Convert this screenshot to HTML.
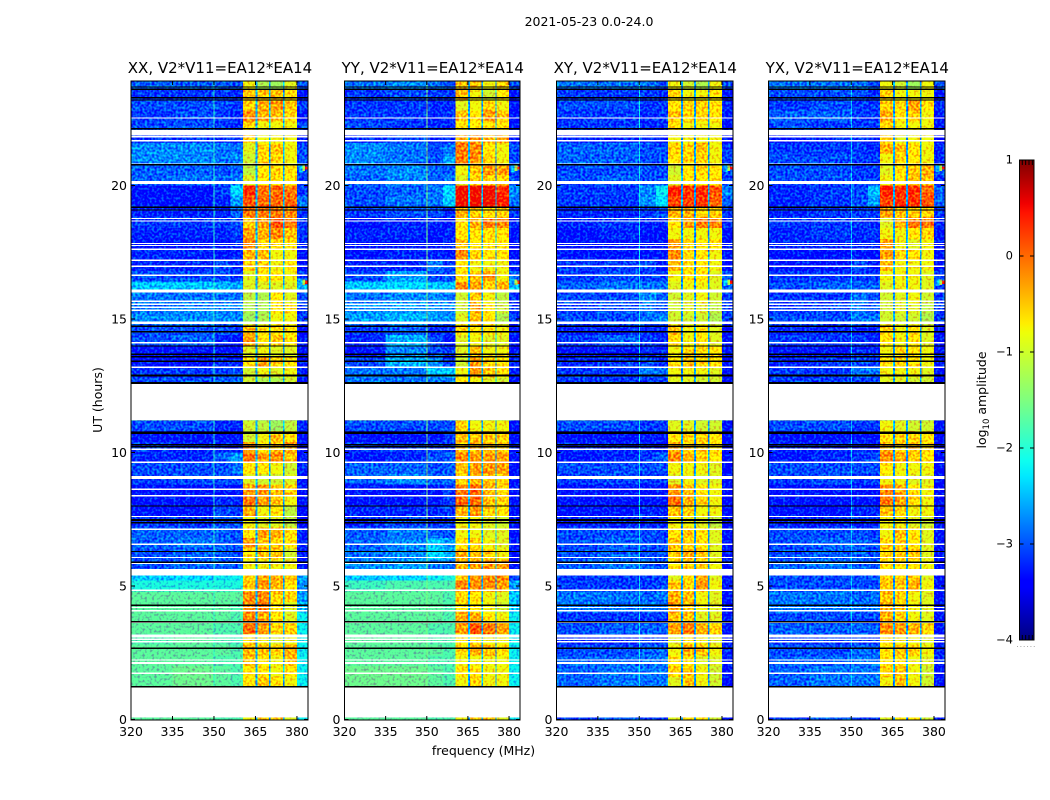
<!DOCTYPE html>
<html>
<head>
<meta charset="utf-8">
<title>2021-05-23 dynamic spectra</title>
<style>
html,body{margin:0;padding:0;background:#fff}
svg{display:block}
text{font-family:"DejaVu Sans","Liberation Sans",sans-serif;fill:#000}
</style>
</head>
<body>
<svg id="chart" xmlns="http://www.w3.org/2000/svg" width="1050" height="800" viewBox="0 0 1050 800">
<defs>
<filter id="speckle" x="0" y="0" width="1" height="1" color-interpolation-filters="sRGB">
<feTurbulence type="fractalNoise" baseFrequency="0.42" numOctaves="1" seed="7" result="n"/>
<feColorMatrix in="n" type="matrix" values="0 0 0 0 0  0 2.2 0 0 -0.6  0 0 0 0 0  0 0 0 0 1" result="g"/>
<feComponentTransfer in="SourceGraphic" result="half"><feFuncG type="linear" slope="0.5" intercept="0"/></feComponentTransfer>
<feComposite in="half" in2="g" operator="arithmetic" k1="0" k2="1" k3="0.35" k4="0" result="sum"/>
<feComponentTransfer in="sum"><feFuncG type="linear" slope="2" intercept="-0.35"/></feComponentTransfer>
</filter>
<linearGradient id="jet-gradient" x1="0" y1="1" x2="0" y2="0">
<stop offset="0" stop-color="#00007f"/><stop offset="0.11" stop-color="#0000ff"/>
<stop offset="0.125" stop-color="#0000ff"/><stop offset="0.34" stop-color="#00e8ff"/>
<stop offset="0.375" stop-color="#0fffee"/><stop offset="0.5" stop-color="#7fff7f"/>
<stop offset="0.64" stop-color="#eeff08"/><stop offset="0.66" stop-color="#ffee00"/>
<stop offset="0.89" stop-color="#ff1300"/><stop offset="0.91" stop-color="#f00000"/>
<stop offset="1" stop-color="#7f0000"/>
</linearGradient>
</defs>
<text x="589" y="26" text-anchor="middle" font-size="12.5">2021-05-23 0.0-24.0</text>
<text x="483.5" y="755" text-anchor="middle" font-size="12.5">frequency (MHz)</text>
<text transform="translate(102,400) rotate(-90)" text-anchor="middle" font-size="12.5">UT (hours)</text>
<text transform="translate(986,400) rotate(-90)" text-anchor="middle" font-size="12.5">log<tspan font-size="8.5" dy="3">10</tspan><tspan dy="-3"> amplitude</tspan></text>
<g id="panels"></g>
<g id="colorbar"></g>
</svg>
<script>
// Data: start hour of each time row (each 0.4 h long), top to bottom
const rowStarts = [23.6,23.2,22.8,22.4,22,21.6,21.2,20.8,20.4,20,19.6,19.2,18.8,18.4,18,17.6,17.2,16.8,16.4,16,15.6,15.2,14.8,14.4,14,13.6,13.2,12.8,12.4,
10.8,10.4,10,9.6,9.2,8.8,8.4,8,7.6,7.2,6.8,6.4,6,5.6,5.2,4.8,4.4,4,3.6,3.2,2.8,2.4,2,1.6,1.2,0];
// Frequency band edges in MHz
const freqEdges = [320,335,350,356,360.5,365.4,370.2,375.2,380,384];
// log10 amplitude x 10, per row, per frequency band
const xxValues = [
[-29,-29,-29,-30,-8,-12,-13,-9,-30],[-31,-31,-31,-32,-5,-5,-5,-6,-33],[-30,-30,-30,-31,-6,-4,-3,-5,-31],[-31,-30,-31,-32,-2,-4,-5,-6,-33],[-30,-30,-31,-32,-6,-8,-8,-8,-30],[-31,-31,-32,-32,-5,-8,-8,-8,-33],[-27,-27,-28,-28,-9,-6,-5,-8,-30],[-27,-27,-28,-27,-10,-6,-6,-8,-30],[-29,-29,-30,-29,-11,-7,-6,-7,-30],[-29,-28,-29,-28,-9,-7,-7,-7,-31],
[-33,-33,-31,-23,3,-1,0,-1,-31],[-33,-33,-32,-26,1,0,0,0,-28],[-32,-32,-32,-29,-1,-1,-1,-2,-31],[-31,-31,-31,-30,-6,-3,1,-1,-31],[-32,-32,-32,-31,-3,-4,-2,-5,-31],[-33,-33,-33,-32,-2,-6,-6,-7,-32],[-32,-32,-33,-32,-4,-5,-8,-8,-33],[-32,-32,-30,-32,-6,-6,-8,-7,-33],[-30,-30,-30,-31,-9,-7,-7,-8,-31],[-24,-24,-25,-26,-9,-9,-9,-9,-25],
[-28,-28,-28,-28,-11,-12,-7,-9,-30],[-28,-27,-27,-27,-12,-12,-7,-7,-31],[-27,-27,-27,-27,-13,-12,-8,-8,-31],[-30,-30,-30,-31,-5,-7,-7,-7,-33],[-30,-29,-32,-33,-3,-7,-5,-7,-33],[-33,-33,-33,-33,-9,-8,-9,-9,-33],[-33,-33,-32,-32,-7,-3,-6,-7,-33],[-31,-31,-30,-30,-10,-8,-9,-8,-32],[-30,-30,-29,-29,-10,-12,-12,-10,-33],
[-30,-30,-32,-32,-10,-11,-13,-11,-32],[-33,-33,-33,-33,-10,-8,-5,-7,-34],[-31,-32,-32,-33,-3,-7,-5,-3,-33],[-32,-32,-29,-26,-1,-3,-2,-5,-33],[-30,-30,-30,-28,-7,-7,-8,-10,-32],[-31,-30,-30,-30,-9,-10,-10,-9,-33],[-33,-33,-33,-33,-3,-3,-5,-6,-33],[-33,-33,-32,-32,-1,-3,-5,-8,-33],[-33,-33,-30,-31,-4,-8,-7,-11,-34],[-31,-31,-30,-30,-8,-9,-9,-11,-34],
[-29,-29,-29,-30,-7,-3,-4,-7,-32],[-29,-28,-29,-30,-3,-5,-6,-7,-32],[-30,-29,-29,-30,-7,-5,-5,-10,-33],[-30,-29,-29,-29,-8,-8,-8,-8,-33],[-24,-23,-22,-22,-6,-3,-4,-5,-26],[-21,-21,-21,-21,-5,-3,-4,-7,-27],[-17,-17,-17,-17,-2,-2,-6,-6,-26],[-17,-17,-17,-18,-2,-1,-7,-9,-25],[-17,-17,-17,-18,-2,-4,-7,-9,-22],[-17,-17,-18,-18,0,-3,-6,-6,-22],
[-18,-17,-18,-19,-6,-8,-9,-8,-22],[-17,-17,-17,-18,-4,-5,-6,-4,-22],[-17,-17,-18,-18,-5,-7,-8,-5,-22],[-17,-16,-17,-18,-7,-7,-8,-7,-22],[-17,-16,-17,-18,-7,-5,-7,-8,-22],[-17,-17,-18,-18,-8,-5,-5,-9,-22]];
const yyValues = [
[-28,-27,-28,-30,-5,-5,-8,-6,-30],[-31,-30,-31,-31,-4,-8,-10,-7,-33],[-31,-31,-32,-32,-9,-8,-6,-8,-33],[-31,-31,-32,-31,-5,-7,-3,-5,-33],[-30,-31,-32,-32,-7,-7,-7,-7,-33],[-32,-30,-32,-32,-3,-3,-4,-4,-33],[-27,-28,-30,-28,-1,-2,-7,-8,-30],[-27,-28,-30,-26,-1,-2,-6,-8,-30],[-28,-27,-29,-29,-8,-5,-3,-3,-31],[-29,-27,-29,-28,-9,-6,-6,-6,-30],
[-30,-29,-28,-23,5,5,5,3,-27],[-30,-28,-28,-24,5,5,5,4,-28],[-31,-30,-30,-32,-4,-6,-7,-6,-31],[-33,-32,-32,-33,-7,-4,-1,-2,-32],[-32,-32,-33,-32,-7,-7,-7,-7,-33],[-33,-33,-33,-32,-5,-7,-7,-7,-33],[-33,-32,-32,-33,-2,-6,-7,-7,-33],[-32,-32,-28,-31,-7,-8,-8,-8,-33],[-30,-26,-30,-30,-7,-5,-3,-8,-29],[-24,-23,-24,-24,-2,-3,-6,-4,-24],
[-28,-27,-27,-28,-10,-5,-8,-11,-31],[-27,-26,-27,-27,-10,-4,-7,-10,-31],[-26,-25,-26,-27,-9,-5,-7,-12,-31],[-31,-29,-32,-32,-6,-7,-7,-8,-33],[-32,-25,-30,-33,-9,-8,-9,-9,-33],[-33,-27,-30,-31,-9,-5,-8,-8,-33],[-30,-25,-27,-31,-10,-3,-6,-7,-32],[-28,-28,-24,-24,-8,-3,-5,-7,-32],[-28,-28,-28,-28,-7,-8,-9,-10,-33],
[-30,-30,-30,-30,-6,-8,-8,-8,-33],[-33,-33,-33,-31,-5,-5,-5,-6,-33],[-31,-31,-31,-31,-5,-4,-5,-6,-33],[-33,-32,-30,-29,-2,-3,-3,-3,-33],[-29,-29,-30,-29,-5,-3,-3,-3,-33],[-29,-27,-29,-29,-6,-5,-5,-6,-33],[-33,-33,-33,-31,-1,0,-4,-6,-33],[-33,-33,-33,-31,0,0,-5,-6,-33],[-32,-32,-32,-31,-4,-3,-6,-7,-33],[-32,-30,-31,-31,-8,-8,-9,-10,-33],
[-29,-28,-29,-30,-8,-8,-9,-9,-33],[-29,-27,-24,-26,-7,-6,-8,-9,-33],[-28,-27,-23,-25,-4,-5,-6,-8,-33],[-27,-26,-28,-28,-4,-3,-2,-3,-33],[-24,-23,-22,-21,-5,-3,-2,-2,-30],[-19,-18,-18,-18,-2,-2,-2,-3,-26],[-17,-17,-17,-18,-6,-7,-8,-9,-24],[-17,-17,-17,-18,-7,-7,-8,-10,-24],[-17,-17,-17,-18,-3,-4,-7,-8,-22],[-17,-17,-18,-18,-3,1,-1,-3,-22],
[-17,-17,-18,-18,-7,-7,-8,-8,-22],[-17,-17,-17,-18,-6,-4,-5,-7,-22],[-17,-17,-18,-18,-8,-8,-8,-8,-22],[-16,-16,-17,-18,-7,-7,-8,-8,-22],[-16,-16,-17,-18,-8,-6,-8,-8,-22],[-17,-17,-18,-18,-8,-5,-5,-9,-22]];
const xyValues = [
[-28,-28,-28,-30,-8,-10,-12,-8,-30],[-31,-31,-31,-32,-6,-8,-8,-7,-33],[-30,-30,-31,-31,-7,-6,-6,-7,-32],[-31,-31,-32,-31,-5,-6,-6,-7,-33],[-31,-31,-32,-32,-7,-8,-8,-8,-33],[-32,-32,-32,-33,-8,-8,-8,-8,-34],[-29,-29,-30,-30,-6,-6,-5,-8,-31],[-29,-29,-30,-30,-7,-6,-6,-8,-31],[-30,-30,-30,-30,-10,-7,-6,-7,-30],[-30,-29,-30,-30,-9,-7,-7,-7,-31],
[-31,-31,-27,-22,4,3,3,1,-27],[-31,-31,-27,-23,2,2,3,0,-29],[-32,-32,-31,-30,-4,-4,-6,-6,-31],[-32,-31,-32,-32,-7,-3,-1,-2,-32],[-33,-32,-33,-33,-8,-8,-8,-8,-33],[-33,-33,-33,-33,-3,-6,-7,-7,-33],[-33,-33,-33,-33,-2,-6,-7,-8,-33],[-31,-31,-30,-33,-5,-7,-7,-8,-33],[-31,-30,-31,-31,-8,-7,-7,-9,-30],[-29,-28,-28,-28,-9,-8,-8,-9,-29],
[-30,-30,-27,-29,-10,-9,-8,-10,-31],[-31,-30,-28,-30,-10,-9,-9,-11,-31],[-30,-30,-28,-27,-10,-10,-10,-12,-31],[-32,-32,-32,-32,-5,-8,-7,-9,-33],[-31,-29,-31,-32,-6,-8,-7,-9,-33],[-33,-33,-32,-32,-8,-6,-7,-7,-33],[-32,-31,-30,-32,-7,-5,-6,-7,-33],[-31,-31,-28,-28,-8,-8,-8,-9,-33],[-31,-31,-31,-31,-9,-9,-10,-10,-33],
[-30,-30,-31,-31,-9,-9,-10,-10,-33],[-33,-33,-33,-33,-7,-6,-6,-7,-34],[-32,-32,-32,-33,-4,-6,-6,-7,-34],[-33,-32,-31,-29,-2,-4,-6,-7,-34],[-30,-30,-30,-30,-8,-8,-8,-9,-34],[-31,-30,-31,-31,-9,-8,-9,-9,-34],[-33,-33,-33,-33,-2,-5,-7,-8,-34],[-33,-33,-33,-33,0,-4,-6,-8,-34],[-33,-33,-32,-32,-5,-6,-8,-8,-34],[-32,-32,-32,-32,-8,-8,-9,-11,-34],
[-30,-30,-30,-31,-7,-5,-7,-9,-33],[-30,-29,-30,-30,-5,-6,-7,-9,-33],[-30,-29,-30,-30,-6,-4,-5,-9,-33],[-29,-28,-29,-30,-7,-6,-6,-8,-33],[-31,-31,-31,-31,-9,-7,-4,-9,-33],[-31,-31,-31,-30,-5,-6,-3,-8,-33],[-28,-28,-29,-28,-4,-5,-8,-9,-33],[-28,-28,-28,-28,-3,-5,-8,-9,-33],[-31,-31,-31,-31,-5,-5,-9,-9,-33],[-30,-29,-29,-29,-3,-1,-4,-6,-33],
[-32,-32,-31,-31,-9,-7,-8,-9,-33],[-30,-30,-29,-29,-8,-4,-5,-8,-32],[-29,-29,-28,-28,-7,-7,-9,-9,-32],[-29,-28,-28,-28,-6,-5,-8,-10,-33],[-29,-28,-28,-28,-9,-5,-8,-10,-33],[-31,-29,-31,-31,-9,-7,-7,-10,-33]];
const yxValues = [
[-28,-28,-28,-30,-8,-10,-13,-8,-30],[-30,-30,-30,-32,-6,-8,-8,-8,-33],[-31,-30,-31,-31,-6,-6,-3,-7,-32],[-29,-29,-31,-31,-4,-7,-6,-8,-33],[-30,-31,-31,-31,-6,-8,-8,-8,-33],[-33,-32,-32,-33,-6,-9,-8,-8,-34],[-31,-31,-31,-32,-4,-5,-7,-8,-32],[-30,-30,-31,-31,-8,-6,-7,-8,-32],[-30,-30,-31,-31,-9,-7,-5,-4,-30],[-30,-30,-31,-31,-8,-7,-5,-5,-32],
[-32,-31,-30,-24,4,3,3,0,-29],[-32,-31,-30,-26,2,3,3,1,-29],[-32,-31,-31,-31,-3,-5,-6,-6,-31],[-31,-31,-31,-32,-9,-4,-1,-1,-32],[-32,-31,-32,-31,-8,-8,-7,-6,-33],[-32,-32,-32,-32,-3,-8,-9,-8,-33],[-33,-33,-33,-33,-3,-6,-7,-8,-33],[-33,-33,-30,-33,-5,-8,-8,-8,-33],[-31,-31,-31,-31,-8,-8,-8,-9,-31],[-30,-29,-29,-29,-9,-8,-8,-9,-30],
[-31,-31,-28,-30,-10,-9,-8,-10,-31],[-31,-30,-28,-30,-10,-9,-9,-11,-31],[-30,-30,-28,-28,-10,-10,-10,-12,-31],[-32,-32,-32,-32,-6,-8,-7,-9,-33],[-31,-31,-31,-32,-7,-8,-7,-9,-33],[-33,-33,-32,-32,-8,-6,-7,-8,-33],[-32,-31,-30,-31,-7,-6,-7,-8,-33],[-31,-31,-28,-28,-8,-8,-8,-9,-33],[-31,-31,-31,-31,-9,-9,-10,-10,-33],
[-30,-30,-31,-31,-8,-9,-10,-10,-33],[-33,-33,-33,-33,-7,-6,-6,-7,-34],[-32,-32,-32,-33,-4,-6,-5,-7,-34],[-33,-32,-31,-30,-2,-4,-5,-7,-34],[-30,-30,-30,-30,-7,-8,-8,-8,-34],[-31,-30,-31,-31,-8,-8,-9,-9,-34],[-33,-33,-33,-33,-2,-4,-7,-8,-34],[-33,-33,-33,-33,-1,-3,-6,-8,-34],[-33,-33,-32,-32,-5,-6,-8,-8,-34],[-32,-32,-32,-32,-8,-8,-9,-10,-34],
[-30,-30,-30,-31,-8,-5,-7,-9,-33],[-30,-29,-29,-30,-6,-6,-7,-9,-33],[-30,-29,-29,-30,-6,-5,-5,-9,-33],[-29,-28,-29,-29,-7,-7,-7,-8,-33],[-30,-30,-30,-30,-6,-6,-5,-9,-33],[-30,-30,-30,-30,-5,-5,-4,-8,-33],[-28,-28,-29,-28,-5,-6,-8,-9,-33],[-28,-28,-28,-28,-4,-5,-8,-9,-33],[-30,-30,-30,-30,-4,-6,-8,-9,-33],[-29,-29,-29,-29,-2,-3,-4,-6,-33],
[-31,-31,-31,-31,-7,-8,-8,-9,-33],[-30,-30,-29,-29,-7,-5,-6,-8,-32],[-29,-29,-28,-28,-7,-7,-8,-9,-32],[-29,-28,-28,-28,-6,-5,-8,-10,-33],[-29,-28,-28,-28,-8,-5,-8,-10,-33],[-31,-29,-31,-31,-9,-7,-7,-10,-33]];
// Panel titles and single-channel RFI / band-notch levels (log10 x 10)
const panelTitles = ['XX, V2*V11=EA12*EA14','YY, V2*V11=EA12*EA14','XY, V2*V11=EA12*EA14','YX, V2*V11=EA12*EA14'];
const rfiLevels = [-20,-15,-22,-24];
const notchLevels = [-25,-25,-26,-26];
const rfiBand = [349.85,350.2];
const notchBands = [[365.1,365.8],[369.9,370.5],[375,375.5]];
// Edge-of-band hot spots: hours, MHz band edges, levels
const hotspotTimes = [16.38,20.65];
const hotspotFreqs = [380.5,382,383,384];
const hotspotValues = [-25,-12,3];
// Flagged (no-data) integrations, hours
const whiteBands = [[22.08,21.87],[20.17,20.06],[18.78,18.74],[16.11,15.99],[14.9,14.81],[12.57,11.22],[5.64,5.39],[4.21,4.18],[3.19,3.08],[2.15,2.08],[1.19,0.08]];
const whiteLines = [22.53,21.83,21.67,20.8,18.67,17.83,17.75,17.61,17.2,16.97,16.64,15.66,15.55,15.44,15.33,14.11,13.19,10.12,9.63,9.09,9.04,8.62,8.38,7.6,7.13,6.56,6.07,5.85,4.84,4.07,3.64,3.01,2.91,2.23,1.73];
// Zero-amplitude integrations, hours
const blackBands = [[22.15,22.1],[12.93,12.84],[12.64,12.57],[10.78,10.69],[8.02,7.97],[7.51,7.44],[5.92,5.87],[1.25,1.19]];
const blackLines = [23.69,23.6,23.29,23.2,20.78,19.18,19.08,14.73,14.52,13.99,13.68,13.59,13.42,10.29,10.22,7.37,6.29,4.28,3.66,2.67];
// Ticks
const xTickValues = [320,335,350,365,380];
const yTickValues = [0,5,10,15,20];
const colorbarTicks = [1,0,-1,-2,-3,-4];
const colorbarTickLabels = ['1','0','\u22121','\u22122','\u22123','\u22124'];

const matrices = [xxValues,yyValues,xyValues,yxValues];
const panelLefts = [131,344.5,556.5,768.5];
const panelRights = [308,520,733,945];
const plotTop = 81, plotBottom = 720;
const SVGNS = 'http://www.w3.org/2000/svg';

function yScale(t){ return 719.5 - t*26.7; }
function xScale(p,f){ return panelLefts[p] + (f-320)*(panelRights[p]-panelLefts[p])/64; }
function jet(v){
  const t = Math.max(0,Math.min(1,(v+4)/5));
  const lerp = (pts)=>{
    for(let i=1;i<pts.length;i++){
      if(t<=pts[i][0]){
        return pts[i-1][1]+(pts[i][1]-pts[i-1][1])*(t-pts[i-1][0])/(pts[i][0]-pts[i-1][0]);
      }
    }
    return pts[pts.length-1][1];
  };
  const r = lerp([[0,0],[0.35,0],[0.66,1],[0.89,1],[1,0.5]]);
  const g = lerp([[0,0],[0.125,0],[0.375,1],[0.64,1],[0.91,0],[1,0]]);
  const b = lerp([[0,0.5],[0.11,1],[0.34,1],[0.65,0],[1,0]]);
  return 'rgb('+Math.round(r*255)+','+Math.round(g*255)+','+Math.round(b*255)+')';
}
function mk(tag,parent,attrs){
  const el = document.createElementNS(SVGNS,tag);
  for(const k in attrs){ el.setAttribute(k,attrs[k]); }
  parent.appendChild(el);
  return el;
}
function timeRect(parent,p,t1,t0,fill){
  const yA = Math.max(plotTop,yScale(t1)), yB = yScale(t0);
  return mk('rect',parent,{x:panelLefts[p],y:yA,width:panelRights[p]-panelLefts[p],height:Math.max(0,yB-yA),fill:fill,'shape-rendering':'crispEdges'});
}

const root = document.getElementById('panels');
panelTitles.forEach(function(title,p){
  const g = mk('g',root,{});
  
  

  const heat = mk('g',g,{filter:'url(#speckle)'});
  
  
  const values = matrices[p];
  rowStarts.forEach(function(t0,r){
    values[r].forEach(function(val,c){
      const x0 = xScale(p,freqEdges[c]), x1 = xScale(p,freqEdges[c+1]);
      const yA = Math.max(plotTop,yScale(t0+0.4)), yB = Math.min(plotBottom,yScale(t0));
      const cell = mk('rect',heat,{x:x0,y:yA,width:x1-x0,height:yB-yA,fill:jet(val/10),'shape-rendering':'crispEdges'});
      
      
    });
    const rfi = mk('rect',heat,{x:xScale(p,rfiBand[0]),y:Math.max(plotTop,yScale(t0+0.4)),width:xScale(p,rfiBand[1])-xScale(p,rfiBand[0]),height:Math.min(plotBottom,yScale(t0))-Math.max(plotTop,yScale(t0+0.4)),fill:jet(rfiLevels[p]/10),'shape-rendering':'crispEdges'});
    
    
    notchBands.forEach(function(band){
      const notch = mk('rect',heat,{x:xScale(p,band[0]),y:Math.max(plotTop,yScale(t0+0.4)),width:xScale(p,band[1])-xScale(p,band[0]),height:Math.min(plotBottom,yScale(t0))-Math.max(plotTop,yScale(t0+0.4)),fill:jet(notchLevels[p]/10),'shape-rendering':'crispEdges'});
      
      
    });
  });
  hotspotTimes.forEach(function(t){
    hotspotValues.forEach(function(val,i){
      const half = 0.14 - i*0.04;
      const spot = mk('rect',heat,{x:xScale(p,hotspotFreqs[i]),y:yScale(t+half),width:xScale(p,hotspotFreqs[i+1])-xScale(p,hotspotFreqs[i]),height:yScale(t-half)-yScale(t+half),fill:jet(val/10),'shape-rendering':'crispEdges'});
      
      
    });
  });

  whiteBands.forEach(function(b){
    const el = timeRect(g,p,b[0],b[1],'#fff');
    
    
  });
  whiteLines.forEach(function(t){
    const el = timeRect(g,p,t+0.025,t-0.025,'#fff');
    
    
  });
  blackBands.forEach(function(b){
    const el = timeRect(g,p,b[0],b[1],'#000');
    
    
  });
  blackLines.forEach(function(t){
    const el = timeRect(g,p,t+0.025,t-0.025,'#000');
    
    
  });

  const L = panelLefts[p], R = panelRights[p];
  const frame = mk('rect',g,{x:L,y:plotTop,width:R-L,height:plotBottom-plotTop,fill:'none',stroke:'#000','stroke-width':1});
  
  

  xTickValues.forEach(function(f){
    const x = xScale(p,f);
    const tb = mk('line',g,{x1:x,x2:x,y1:plotBottom,y2:plotBottom-4,stroke:'#000','stroke-width':1});
    
    
    const tt = mk('line',g,{x1:x,x2:x,y1:plotTop,y2:plotTop+4,stroke:'#000','stroke-width':1});
    
    
    const lb = mk('text',g,{x:x,y:736,'text-anchor':'middle','font-size':12.5});
    
    
    lb.textContent = String(f);
  });
  yTickValues.forEach(function(t){
    const y = yScale(t);
    const tl = mk('line',g,{x1:L,x2:L+4,y1:y,y2:y,stroke:'#000','stroke-width':1});
    
    
    const tr = mk('line',g,{x1:R,x2:R-4,y1:y,y2:y,stroke:'#000','stroke-width':1});
    
    
    const lb = mk('text',g,{x:L-4,y:y+4.5,'text-anchor':'end','font-size':12.5});
    
    
    lb.textContent = String(t);
  });
  const ttl = mk('text',g,{x:(L+R)/2+0.5,y:73,'text-anchor':'middle','font-size':15});
  
  
  ttl.textContent = title;
});

// Colorbar
const cb = document.getElementById('colorbar');
const cbL = 1019.5, cbR = 1034, cbT = 160, cbB = 640;
function cbY(v){ return cbB - (v+4)*(cbB-cbT)/5; }
const ramp = mk('rect',cb,{x:cbL,y:cbT,width:cbR-cbL,height:cbB-cbT,fill:'url(#jet-gradient)',stroke:'#000','stroke-width':1});


colorbarTicks.forEach(function(v,i){
  const y = cbY(v);
  const a = mk('line',cb,{x1:cbL,x2:cbL+4,y1:y,y2:y,stroke:'#000','stroke-width':1});
  
  
  const b = mk('line',cb,{x1:cbR,x2:cbR-4,y1:y,y2:y,stroke:'#000','stroke-width':1});
  
  
  const lb = mk('text',cb,{x:1013,y:y+3.5,'text-anchor':'end','font-size':11.5});
  
  
  lb.textContent = colorbarTickLabels[i];
});
for(let i=0;i<4;i++){
  const x = 1022.3 + i*3.35;
  const top = mk('line',cb,{x1:x,x2:x,y1:cbT,y2:cbT+5,stroke:'#000','stroke-width':1});
  
  
  const bot = mk('line',cb,{x1:x,x2:x,y1:cbB,y2:cbB-5,stroke:'#000','stroke-width':1});
  
  
}
const dots = mk('line',cb,{x1:1017,x2:1035,y1:646.5,y2:646.5,stroke:'#aaa','stroke-width':1,'stroke-dasharray':'1 2.35'});


</script>
</body>
</html>
